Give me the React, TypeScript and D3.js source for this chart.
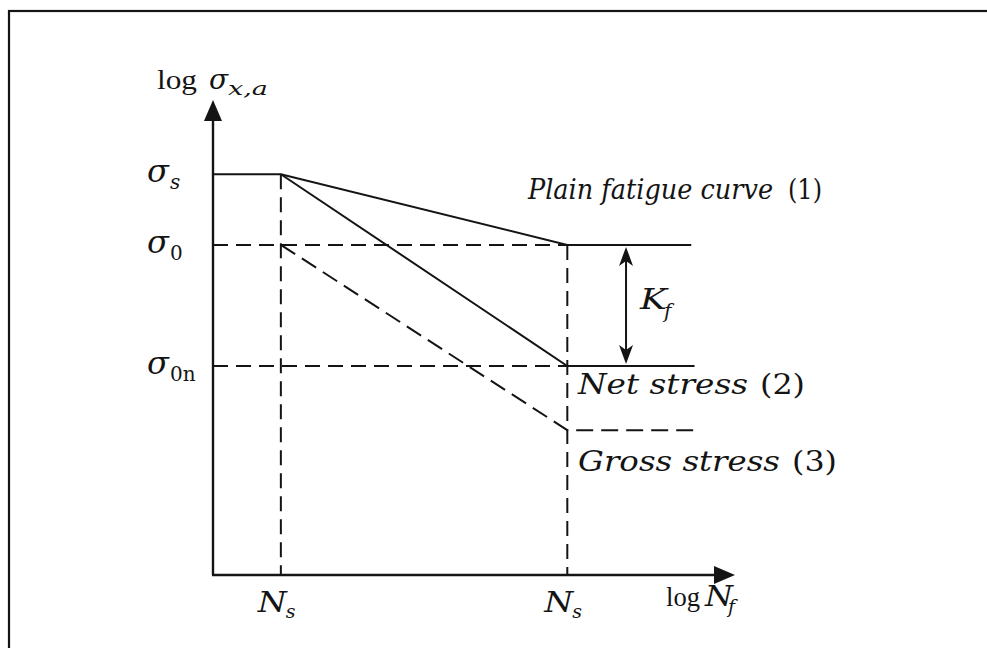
import React from "react";
import * as d3 from "d3";

// Stress levels on the log σ axis (log units)
const levelKeys = ["sigmaS", "sigma0", "sigma0n", "gross"];
const levelValues = [6.75, 5.56, 3.52, 2.44];
const levelSubs = ["s", "0", "0n", ""];

// Cycle marks on the log N axis (log units)
const cycleValues = [1.04, 5.43];
const cycleSubs = ["s", "s"];
const plateauEnd = 7.33;
const kfPosition = 6.33;

const W = 987;
const H = 648;
const ink = "#141414";
const mathFont = "'DejaVu Serif', 'Liberation Serif', serif";

export default function App() {
  const x = d3.scaleLinear().domain([0, 8]).range([213, 735]);
  const y = d3.scaleLinear().domain([0, 8]).range([575, 100]);
  const lv = (k: string) => levelValues[levelKeys.indexOf(k)];
  const [n1, n2] = cycleValues;
  const line = d3
    .line<[number, number]>()
    .x((d) => x(d[0]))
    .y((d) => y(d[1]));

  // (1) plain fatigue curve, (2) net stress, (3) gross stress
  const curve1: [number, number][] = [
    [0, lv("sigmaS")],
    [n1, lv("sigmaS")],
    [n2, lv("sigma0")],
    [plateauEnd, lv("sigma0")],
  ];
  const curve2: [number, number][] = [
    [n1, lv("sigmaS")],
    [n2, lv("sigma0n")],
    [plateauEnd + 0.05, lv("sigma0n")],
  ];
  const curve3: [number, number][] = [
    [n1, lv("sigma0")],
    [n2, lv("gross")],
    [plateauEnd + 0.05, lv("gross")],
  ];
  const guides: [number, number][][] = [
    [
      [0, lv("sigma0")],
      [n2, lv("sigma0")],
    ],
    [
      [0, lv("sigma0n")],
      [n2, lv("sigma0n")],
    ],
    [
      [n1, lv("sigmaS")],
      [n1, 0],
    ],
    [
      [n2, lv("sigma0")],
      [n2, 0],
    ],
  ];

  const x0 = x(0);
  const y0 = y(0);
  const yTop = y(8);
  const xEnd = x(8);
  const kx = x(kfPosition);
  const kTop = y(lv("sigma0")) + 2;
  const kBot = y(lv("sigma0n")) - 2;

  const sw = 2;

  return (
    <svg
      width={W}
      height={H}
      style={{ position: "absolute", left: 0, top: 0, background: "#fff" }}
    >
      <rect x={9} y={11} width={1000} height={700} fill="none" stroke={ink} strokeWidth={2.2} />

      {/* dashed guide lines */}
      {guides.map((g, i) => (
        <path key={i} d={line(g) || ""} fill="none" stroke={ink} strokeWidth={sw} strokeDasharray="15 8" />
      ))}

      <path d={line(curve1) || ""} fill="none" stroke={ink} strokeWidth={sw} />
      <path d={line(curve2) || ""} fill="none" stroke={ink} strokeWidth={sw} />
      <path d={line(curve3) || ""} fill="none" stroke={ink} strokeWidth={sw} strokeDasharray="17 8" />

      {/* axes */}
      <line x1={x0} y1={y0} x2={x0} y2={yTop + 18} stroke={ink} strokeWidth={sw + 0.4} />
      <path d={`M${x0},${yTop} L${x0 - 9},${yTop + 21} L${x0 + 9},${yTop + 21} Z`} fill={ink} />
      <line x1={x0 - 1} y1={y0} x2={xEnd - 18} y2={y0} stroke={ink} strokeWidth={sw + 0.4} />
      <path d={`M${xEnd},${y0} L${xEnd - 21},${y0 - 9} L${xEnd - 21},${y0 + 9} Z`} fill={ink} />

      {/* K_f double arrow */}
      <line x1={kx} y1={kTop + 10} x2={kx} y2={kBot - 10} stroke={ink} strokeWidth={sw} />
      <path
        d={`M${kx},${kTop} L${kx - 7},${kTop + 19} L${kx},${kTop + 14} L${kx + 7},${kTop + 19} Z`}
        fill={ink}
      />
      <path
        d={`M${kx},${kBot} L${kx - 7},${kBot - 19} L${kx},${kBot - 14} L${kx + 7},${kBot - 19} Z`}
        fill={ink}
      />

      <g fill={ink} fontFamily={mathFont}>
        {/* y axis title */}
        <text x={157} y={89} fontSize={27} fontFamily="'Liberation Serif', serif" textLength={40} lengthAdjust="spacingAndGlyphs">log</text>
        <text x={209} y={89} fontSize={28} fontStyle="italic">σ</text>
        <text x={228} y={95} fontSize={19} fontStyle="italic" textLength={40} lengthAdjust="spacingAndGlyphs">x,a</text>

        {/* stress level labels */}
        {levelKeys.slice(0, 3).map((k, i) => (
          <g key={k}>
            <text x={147} y={y(levelValues[i]) + 8} fontSize={32} fontStyle="italic">σ</text>
            <text x={170} y={y(levelValues[i]) + 15} fontSize={20} fontStyle={i === 0 ? "italic" : "normal"}>
              {levelSubs[i]}
            </text>
          </g>
        ))}

        {/* cycle labels */}
        {cycleValues.map((c, i) => (
          <g key={i}>
            <text x={x(c) - 23} y={612} fontSize={27} fontStyle="italic" textLength={29} lengthAdjust="spacingAndGlyphs">N</text>
            <text x={x(c) + 5} y={618} fontSize={19} fontStyle="italic">{cycleSubs[i]}</text>
          </g>
        ))}
        <text x={666} y={606} fontSize={27} fontFamily="'Liberation Serif', serif" textLength={34} lengthAdjust="spacingAndGlyphs">log</text>
        <text x={705} y={606} fontSize={27} fontStyle="italic" textLength={28} lengthAdjust="spacingAndGlyphs">N</text>
        <text x={728} y={613} fontSize={19} fontStyle="italic">f</text>

        {/* curve labels */}
        <text x={528} y={199} fontSize={27} fontStyle="italic" textLength={245} lengthAdjust="spacingAndGlyphs">
          Plain fatigue curve
        </text>
        <text x={788} y={199} fontSize={27} textLength={34} lengthAdjust="spacingAndGlyphs">(1)</text>

        <text x={578} y={394} fontSize={27} fontStyle="italic" textLength={170} lengthAdjust="spacingAndGlyphs">
          Net stress
        </text>
        <text x={760} y={394} fontSize={27} textLength={45} lengthAdjust="spacingAndGlyphs">(2)</text>

        <text x={578} y={471} fontSize={27} fontStyle="italic" textLength={202} lengthAdjust="spacingAndGlyphs">
          Gross stress
        </text>
        <text x={792} y={471} fontSize={27} textLength={45} lengthAdjust="spacingAndGlyphs">(3)</text>

        <text x={640} y={309} fontSize={28} fontStyle="italic" textLength={27} lengthAdjust="spacingAndGlyphs">K</text>
        <text x={664} y={318} fontSize={20} fontStyle="italic">f</text>
      </g>
    </svg>
  );
}
